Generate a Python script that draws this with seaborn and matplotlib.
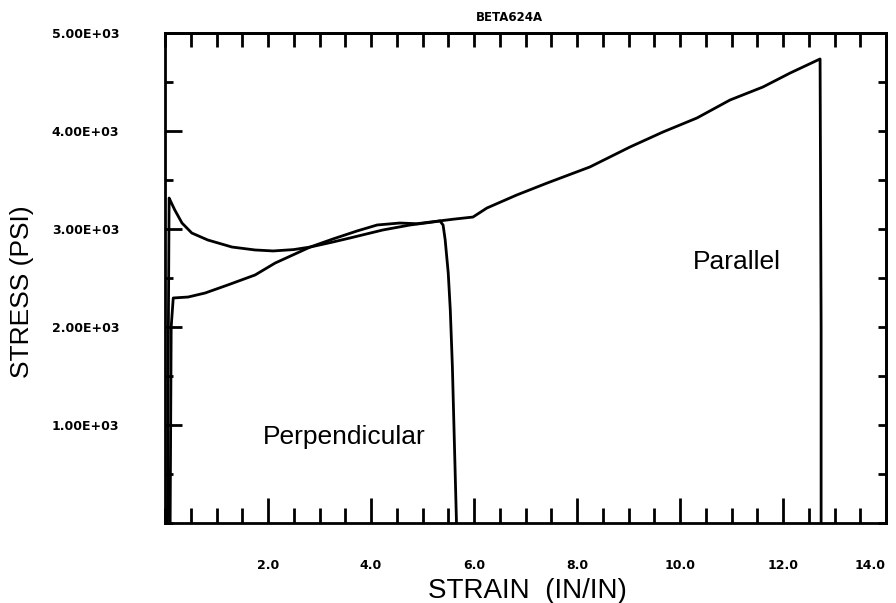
import numpy as np
import pandas as pd
import matplotlib
matplotlib.use("Agg")
from matplotlib import pyplot as plt
from matplotlib.ticker import MultipleLocator, FixedLocator, FixedFormatter
import seaborn as sns

# curves (strain in/in, stress psi)
perp_x = [0.05, 0.06, 0.08, 0.13, 0.19, 0.33, 0.52, 0.83, 1.30, 1.75, 2.10, 2.50, 2.82,
          3.20, 3.59, 4.23, 4.76, 5.20, 5.34, 5.40, 5.44, 5.50, 5.54, 5.58, 5.62, 5.66]
perp_y = [0, 1500, 3316, 3260, 3194, 3061, 2959, 2888, 2816, 2786, 2776, 2790, 2816,
          2860, 2908, 2990, 3041, 3071, 3082, 3040, 2890, 2550, 2170, 1600, 800, 0]

par_x = [0.10, 0.12, 0.16, 0.45, 0.78, 1.22, 1.75, 2.14, 2.82, 3.26, 3.73, 4.12,
         4.56, 4.89, 5.15, 5.60, 5.98, 6.25, 6.83, 7.42, 8.25, 9.03, 9.67, 10.33,
         10.97, 11.61, 12.14, 12.72, 12.74, 12.74]
par_y = [0, 2000, 2296, 2306, 2347, 2429, 2531, 2653, 2816, 2898, 2980, 3041,
         3061, 3054, 3071, 3100, 3122, 3214, 3347, 3469, 3633, 3837, 3990, 4133,
         4316, 4449, 4592, 4735, 2000, 0]

xtick_vals = [2, 4, 6, 8, 10, 12, 14]
xtick_labels = ['2.0', '4.0', '6.0', '8.0', '10.0', '12.0', '14.0']
ytick_vals = [1000, 2000, 3000, 4000, 5000]
ytick_labels = ['1.00E+03', '2.00E+03', '3.00E+03', '4.00E+03', '5.00E+03']

df = pd.concat([
    pd.DataFrame({'strain': perp_x, 'stress': perp_y, 'dir': 'Perpendicular'}),
    pd.DataFrame({'strain': par_x, 'stress': par_y, 'dir': 'Parallel'}),
])

sns.set_style("ticks")
plt.rcParams['font.family'] = ['Liberation Sans', 'DejaVu Sans']
for k in ['text.color', 'axes.labelcolor', 'xtick.color', 'ytick.color', 'axes.edgecolor']:
    plt.rcParams[k] = 'black'

fig = plt.figure(figsize=(8.96, 6.03), dpi=100)
ax = fig.add_axes([165/896, 80/603, 721/896, 490/603])

for name, grp in df.groupby('dir'):
    sns.lineplot(data=grp, x='strain', y='stress', sort=False, estimator=None,
                 color='black', linewidth=2, ax=ax, legend=False)

ax.set_xlim(0, 14)
ax.set_ylim(0, 5000)

ax.xaxis.set_major_locator(FixedLocator(xtick_vals))
ax.xaxis.set_major_formatter(FixedFormatter(xtick_labels))
ax.xaxis.set_minor_locator(MultipleLocator(0.5))
ax.yaxis.set_major_locator(FixedLocator(ytick_vals))
ax.yaxis.set_major_formatter(FixedFormatter(ytick_labels))
ax.yaxis.set_minor_locator(MultipleLocator(500))

ax.tick_params(axis='x', which='major', direction='in', length=18, width=2, pad=26,
               labelsize=9, top=False)
ax.tick_params(axis='x', which='minor', direction='in', length=11, width=2, top=False)
ax.tick_params(axis='y', which='major', direction='in', length=12, width=2, pad=33,
               labelsize=9, right=False)
ax.tick_params(axis='y', which='minor', direction='in', length=6, width=2, right=False)
for lab in ax.get_xticklabels() + ax.get_yticklabels():
    lab.set_fontweight('bold')
    lab.set_family('DejaVu Sans')
ax.get_xticklabels()[-1].set_ha('right')

# top and right: uniform short ticks, no labels
top = ax.secondary_xaxis('top')
top.xaxis.set_major_locator(MultipleLocator(0.5))
top.tick_params(direction='in', length=10, width=2, labeltop=False, color='black')
right = ax.secondary_yaxis('right')
right.yaxis.set_major_locator(MultipleLocator(500))
right.tick_params(direction='in', length=6, width=2, labelright=False, color='black')

for sp in list(ax.spines.values()) + [top.spines['top'], right.spines['right']]:
    sp.set_visible(True)
    sp.set_linewidth(2)
    sp.set_color('black')

ax.set_xlabel('STRAIN  (IN/IN)', fontsize=20, va='center', color='black')
ax.xaxis.set_label_coords(0.503, -0.139)
ax.set_ylabel('STRESS (PSI)', fontsize=19, va='center', color='black')
ax.yaxis.set_label_coords(-0.198, 0.473)

ax.text(0.478, 1.031, 'BETA624A', transform=ax.transAxes, ha='center', va='center',
        fontsize=8.5, fontweight='bold', family='DejaVu Sans', color='black')
ax.text(3.48, 878, 'Perpendicular', ha='center', va='center', fontsize=19, color='black')
ax.text(11.1, 2663, 'Parallel', ha='center', va='center', fontsize=19, color='black')

fig.savefig('out.png', dpi=100)
